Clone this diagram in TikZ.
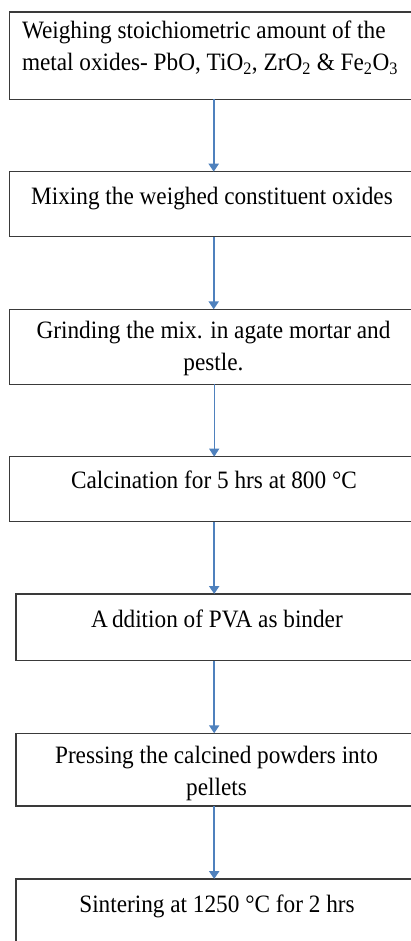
\documentclass[tikz,border=0pt]{standalone}
\usepackage{fontspec}
\setmainfont{Liberation Serif}[FakeStretch=0.93]
\usetikzlibrary{arrows.meta}
\definecolor{arrblue}{HTML}{4F81BD}
\definecolor{boxline}{HTML}{3A3A3A}
\tikzset{
  box/.style={draw=boxline, line width=1.5pt, rectangle, inner sep=0pt, outer sep=0pt, minimum width=430pt, anchor=north west},
  txt/.style={inner sep=0pt, outer sep=0pt, font={\fontsize{25}{32}\selectfont}, align=center, anchor=north},
  arr/.style={draw=arrblue, line width=2pt, -{Triangle[width=10pt,length=8pt]}},
  thinarr/.style={arr, line width=1pt}
}
\newcommand{\tstrut}{\rule{0pt}{20pt}}
\begin{document}
\begin{tikzpicture}[x=1pt,y=-1pt]
\useasboundingbox (0,0) rectangle (411,941);
\clip (0,0) rectangle (411,941);
\fill[white] (0,0) rectangle (411,941);
% boxes
\node[box, minimum height=87.3pt] (b1) at (9.5,12) {};
\node[box, minimum height=65pt] (b2) at (9.5,171.7) {};
\node[box, minimum height=75pt] (b3) at (9.5,309.3) {};
\node[box, minimum height=65pt] (b4) at (9.5,456.7) {};
\node[box, minimum height=66.7pt] (b5) at (16,594) {};
\node[box, minimum height=72.7pt] (b6) at (16,733.3) {};
\node[box, minimum height=90pt] (b7) at (16,879) {};
% texts
\node[txt, align=left, anchor=north west] (t1) at (22,19) {\tstrut Weighing stoichiometric amount of the\\ metal oxides- PbO, TiO\textsubscript{2}, ZrO\textsubscript{2} \& Fe\textsubscript{2}O\textsubscript{3}};
\node[txt] (t2) at (212,185) {\tstrut Mixing the weighed constituent oxides};
\node[txt] (t3) at (213.5,318) {\tstrut Grinding the mix. in agate mortar and\\ pestle.};
\node[txt] (t4) at (214,468) {\tstrut Calcination for 5 hrs at 800 °C};
\node[txt] (t5) at (217,607) {\tstrut A\kern4pt ddition of PVA as binder};
\node[txt] (t6) at (216.5,743) {\tstrut Pressing the calcined powders into\\ pellets};
\node[txt] (t7) at (217,892) {\tstrut Sintering at 1250 °C for 2 hrs};
% arrows
\coordinate (ax) at (213.7,0);
\coordinate (bx) at (214.2,0);
\draw[arr] (b1.south -| ax) -- (b2.north -| ax);
\draw[arr] (b2.south -| ax) -- (b3.north -| ax);
\draw[thinarr] (b3.south -| bx) -- (b4.north -| bx);
\draw[arr] (b4.south -| bx) -- (b5.north -| bx);
\draw[arr] (b5.south -| bx) -- (b6.north -| bx);
\draw[arr] (b6.south -| bx) -- (b7.north -| bx);
\end{tikzpicture}
\end{document}
